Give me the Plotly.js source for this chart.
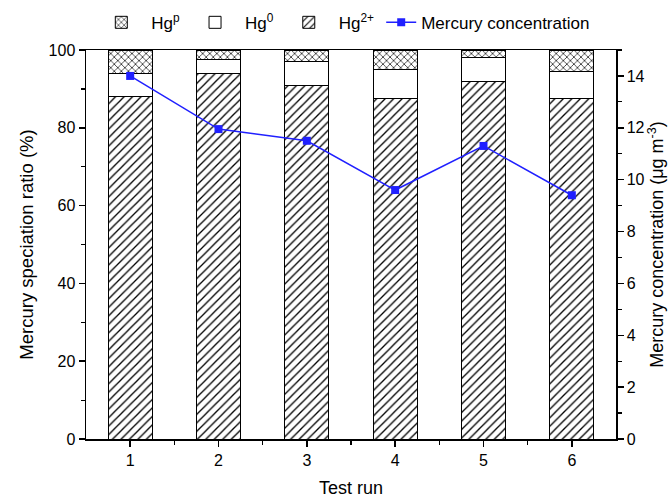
<!DOCTYPE html>
<html>
<head>
<meta charset="utf-8">
<script src="https://cdn.plot.ly/plotly-3.0.1.min.js"></script>
<style>html,body{margin:0;padding:0;background:#fff;}#chart{width:670px;height:498px;}</style>
</head>
<body>
<div id="chart"></div>
<script>
const runs = [1, 2, 3, 4, 5, 6];
const hg2 = [88, 94, 91, 87.5, 92, 87.5];
const hg0 = [6, 3.5, 6, 7.5, 6, 7];
const hgp = [6, 2.5, 3, 5, 2, 5.5];
const concentration = [14.0, 11.95, 11.5, 9.6, 11.3, 9.4];
const leftTicks = [0, 20, 40, 60, 80, 100];
const rightTicks = [0, 2, 4, 6, 8, 10, 12, 14];

const font = {family: 'Liberation Sans, Arial, sans-serif', color: '#000'};
const barLine = {color: '#000', width: 1};

const traces = [
  {type: 'bar', x: runs, y: hg2, name: 'Hg<sup>2+</sup>', width: 0.5, legendrank: 3,
   marker: {color: '#fff', line: barLine, pattern: {shape: '/', fgcolor: '#000', bgcolor: '#fff', size: 6, solidity: 0.22}}},
  {type: 'bar', x: runs, y: hg0, name: 'Hg<sup>0</sup>', width: 0.5, legendrank: 2,
   marker: {color: '#fff', line: barLine}},
  {type: 'bar', x: runs, y: hgp, name: 'Hg<sup>p</sup>', width: 0.5, legendrank: 1,
   marker: {color: '#fff', line: barLine, pattern: {shape: 'x', fgcolor: '#000', bgcolor: '#fff', size: 5, solidity: 0.25}}},
  {type: 'scatter', mode: 'lines+markers', x: runs, y: concentration, yaxis: 'y2', name: 'Mercury concentration', legend: 'legend2',
   line: {color: '#2020ff', width: 1.5}, marker: {symbol: 'square', size: 8, color: '#2020ff'}}
];

const layout = {
  width: 670, height: 498,
  margin: {l: 86, r: 54, t: 50, b: 59, autoexpand: false},
  barmode: 'stack',
  paper_bgcolor: '#fff', plot_bgcolor: '#fff',
  font: Object.assign({size: 16}, font),
  showlegend: true,
  legend: {orientation: 'h', traceorder: 'normal', x: 0.01, xanchor: 'left', y: 1.07, yanchor: 'middle',
           font: Object.assign({size: 17}, font), itemwidth: 50, tracegroupgap: 0, bgcolor: 'rgba(0,0,0,0)'},
  legend2: {orientation: 'h', x: 0.557, xanchor: 'left', y: 1.07, yanchor: 'middle',
            font: Object.assign({size: 17}, font), itemwidth: 30, bgcolor: 'rgba(0,0,0,0)'},
  xaxis: {range: [0.5, 6.5], tickvals: runs, ticks: 'outside', ticklen: 6, tickwidth: 1.5, tickcolor: '#000',
          showline: true, linecolor: '#000', linewidth: 1.5, mirror: true, showgrid: false, zeroline: false,
          tickfont: Object.assign({size: 16}, font),
          minor: {tickvals: [1.5, 2.5, 3.5, 4.5, 5.5], ticks: 'outside', ticklen: 4, tickcolor: '#000', tickwidth: 1.2},
          title: {text: 'Test run', font: Object.assign({size: 18}, font), standoff: 18}},
  yaxis: {range: [0, 100], tickvals: leftTicks, ticks: 'outside', ticklen: 6, tickwidth: 1.5, tickcolor: '#000',
          showline: true, linecolor: '#000', linewidth: 1.5, showgrid: false, zeroline: false,
          tickfont: Object.assign({size: 16}, font),
          minor: {dtick: 10, ticks: 'outside', ticklen: 4, tickcolor: '#000', tickwidth: 1.2},
          title: {text: 'Mercury speciation ratio (%)', font: Object.assign({size: 18.5}, font), standoff: 10}},
  yaxis2: {range: [0, 15], tickvals: rightTicks, overlaying: 'y', side: 'right', ticks: 'outside', ticklen: 6, tickwidth: 1.5, tickcolor: '#000',
           showline: true, linecolor: '#000', linewidth: 1.5, showgrid: false, zeroline: false,
           tickfont: Object.assign({size: 16}, font),
           minor: {dtick: 1, ticks: 'outside', ticklen: 4, tickcolor: '#000', tickwidth: 1.2},
           title: {text: 'Mercury concentration (μg m<sup>-3</sup>)', font: Object.assign({size: 18}, font), standoff: 6}}
};

Plotly.newPlot('chart', traces, layout, {displayModeBar: false, staticPlot: true});
</script>
</body>
</html>
